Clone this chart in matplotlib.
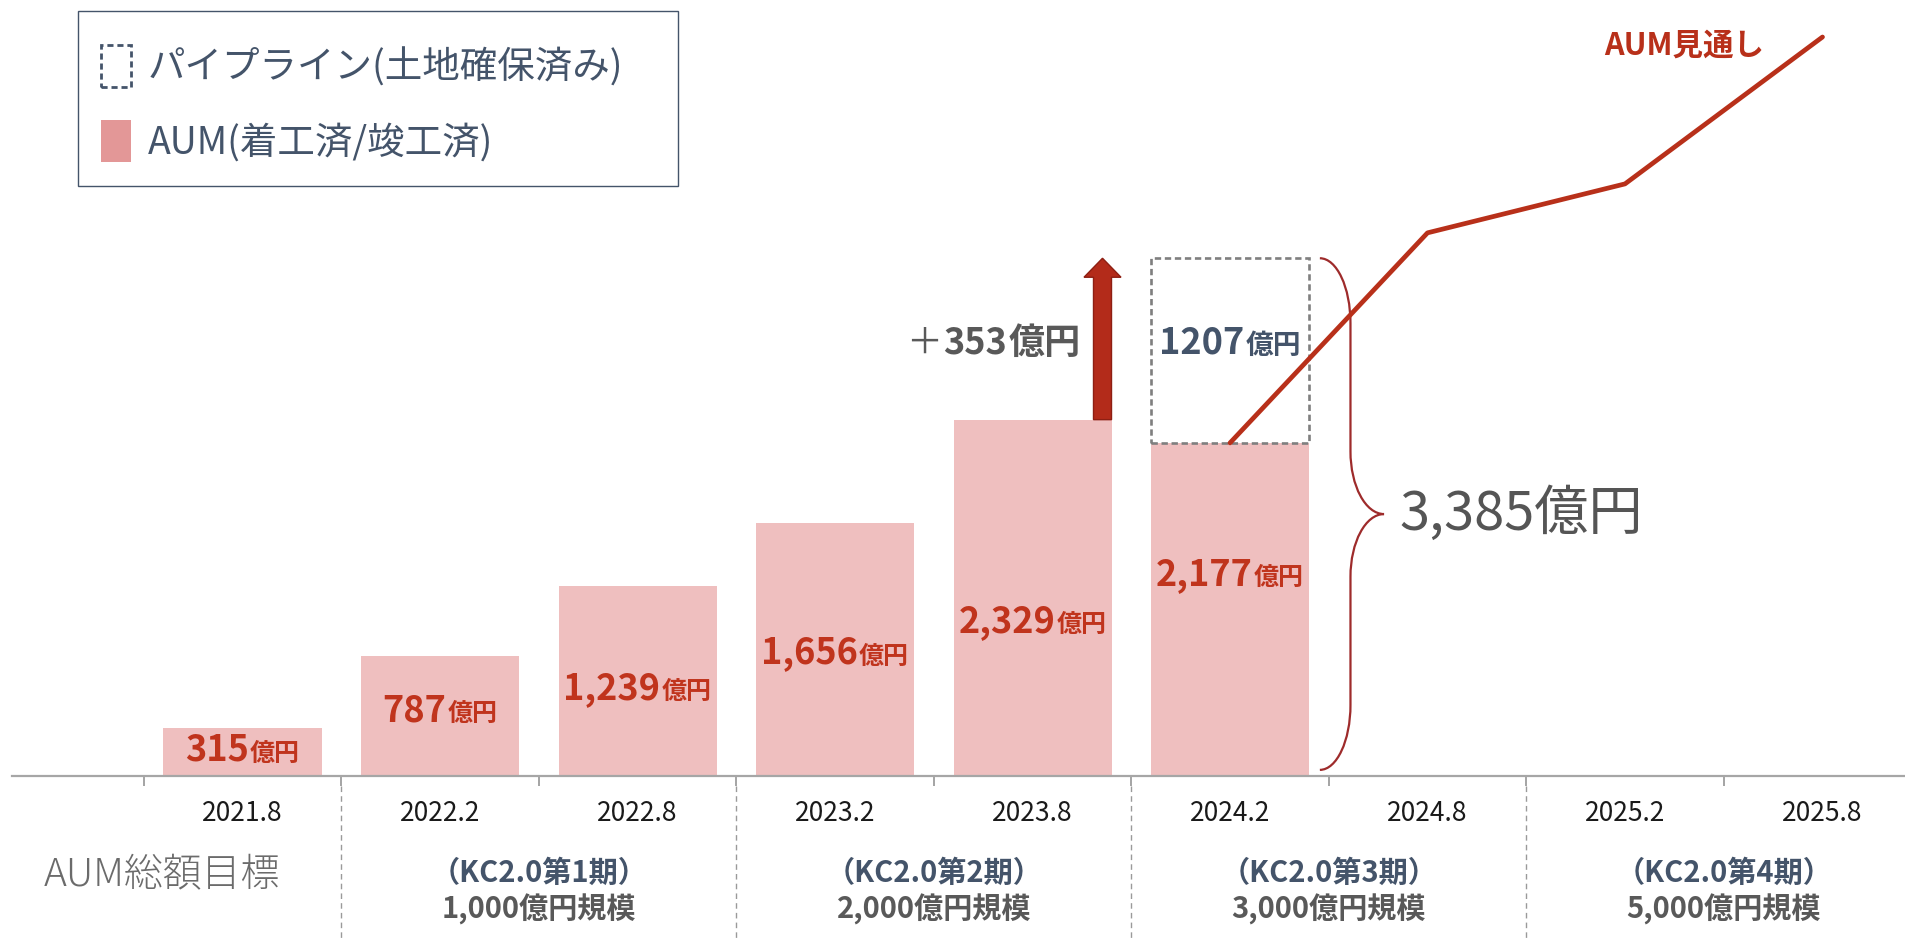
import matplotlib
matplotlib.use("Agg")
import matplotlib.pyplot as plt
from matplotlib.patches import Patch, FancyArrow, PathPatch, Rectangle
from matplotlib.path import Path
from matplotlib.offsetbox import TextArea, HPacker, AnnotationBbox
import numpy as np

plt.rcParams['font.family'] = ['Noto Sans CJK JP', 'DejaVu Sans']

# data
periods = ["2021.8", "2022.2", "2022.8", "2023.2", "2023.8",
           "2024.2", "2024.8", "2025.2", "2025.8"]
aum = [315, 787, 1239, 1656, 2329, 2177]
pipeline = 1207
increase = 353
total_aum = 3385
outlook_idx = [5, 6, 7, 8]
outlook = [2177, 3550, 3870, 4830]
phase_names = ["（KC2.0第1期）", "（KC2.0第2期）", "（KC2.0第3期）", "（KC2.0第4期）"]
phase_targets = ["1,000億円規模", "2,000億円規模", "3,000億円規模", "5,000億円規模"]
phase_centers = [1.5, 3.5, 5.5, 7.5]
phase_bounds = [0.5, 2.5, 4.5, 6.5]
label_y = [170, 425, 569, 804, 1007, 1314]  # where the value labels sit in the bars

# colours
BAR = '#EFBFBF'
LEGEND_PINK = '#E39797'
RED_TXT = '#C0341D'
LINE = '#B8301A'
BRACE = '#9E2B2B'
SLATE = '#44546A'
GRAY_TXT = '#595959'

# layout (pixels of the 1906x939 picture)
W, H = 1906, 939
base_px = 776
px_per_unit = 0.153
cat_px = 197.5
x0_px = 242.5


def y_below(px):
    return (base_px - px) / px_per_unit


fig = plt.figure(figsize=(W / 100, H / 100), dpi=100)
ax = fig.add_axes([0, (H - base_px) / H, 1, base_px / H])
ax.set_xlim(-x0_px / cat_px, (W - x0_px) / cat_px)
ax.set_ylim(0, base_px / px_per_unit)
ax.patch.set_visible(False)

# bars
ax.bar(range(len(aum)), aum, width=0.8, color=BAR, zorder=1)
ax.bar(5, pipeline, bottom=aum[5], width=0.8, fill=False, edgecolor='#7F7F7F',
       linestyle=(0, (2.4, 1.4)), linewidth=1.9, zorder=2)


def value_label(x, y, num, unit, color, num_size, unit_size, weight='bold',
                first=None, align=(0.5, 0.5)):
    parts = []
    if first is not None:
        parts.append(TextArea(first, textprops=dict(color=color, fontsize=num_size)))
    parts.append(TextArea(num, textprops=dict(color=color, fontsize=num_size, fontweight=weight)))
    parts.append(TextArea(unit, textprops=dict(color=color, fontsize=unit_size, fontweight=weight)))
    box = HPacker(children=parts, align='baseline', pad=0, sep=1)
    ab = AnnotationBbox(box, (x, y), frameon=False, box_alignment=align, pad=0, zorder=5)
    ax.add_artist(ab)


for i, v in enumerate(aum):
    value_label(i, label_y[i], f"{v:,}", "億円", RED_TXT, 26, 18)

total = aum[5] + pipeline
value_label(5, 2830, str(pipeline), "億円", SLATE, 26, 20)

# arrow for the increase
arrow_w = 18 / cat_px
arrow_x = 4 + 0.4 - arrow_w / 2
ax.add_patch(FancyArrow(arrow_x, aum[4], 0, total - aum[4], width=arrow_w,
                        head_width=37 / cat_px, head_length=19 / px_per_unit,
                        length_includes_head=True, facecolor='#B32B1A',
                        edgecolor='#8E1F13', linewidth=1, zorder=4))
value_label(arrow_x - 0.11, 2830, f"{increase}", "億円", GRAY_TXT, 26, 26,
            first="＋", align=(1, 0.5))

# brace for the total
k = 0.552
x_end, x_spine, x_tip = 5.455, 5.61, 5.78
top, bottom = total, 40
mid = (top + bottom) / 2
r, r2 = 425, 410
dx, dx2 = x_spine - x_end, x_tip - x_spine
verts = [
    (x_end, top),
    (x_end + k * dx, top), (x_spine, top - (1 - k) * r), (x_spine, top - r),
    (x_spine, mid + r2),
    (x_spine, mid + r2 - k * r2), (x_tip - k * dx2, mid), (x_tip, mid),
    (x_tip - k * dx2, mid), (x_spine, mid - r2 + k * r2), (x_spine, mid - r2),
    (x_spine, bottom + r),
    (x_spine, bottom + r - k * r), (x_end + k * dx, bottom), (x_end, bottom),
]
codes = ([Path.MOVETO] + [Path.CURVE4] * 3 + [Path.LINETO] + [Path.CURVE4] * 6
         + [Path.LINETO] + [Path.CURVE4] * 3)
ax.add_patch(PathPatch(Path(verts, codes), fill=False, edgecolor=BRACE,
                       linewidth=1.6, zorder=3))
ax.text(x_tip + 0.08, mid, f"{total_aum:,}億円", fontsize=39, color='#555555',
        ha='left', va='center')

# outlook line
ax.plot(outlook_idx, outlook, color=LINE, lw=3.4, solid_capstyle='round', zorder=6)
ax.text(7.30, 4771, "AUM見通し", fontsize=22, fontweight='bold', color=LINE,
        ha='center', va='center')

# axis
for s in ['top', 'left', 'right']:
    ax.spines[s].set_visible(False)
ax.spines['bottom'].set_color('#A6A6A6')
ax.spines['bottom'].set_linewidth(1.6)
ax.spines['bottom'].set_bounds(-1.167, 8.5)
ax.spines['bottom'].set_zorder(7)
ax.set_yticks([])
ax.set_xticks(range(len(periods)))
ax.set_xticklabels(periods, fontsize=19, color='#1A1A1A')
ax.tick_params(axis='x', which='major', length=0, pad=17)
ax.set_xticks(np.arange(-0.5, 8.5, 1), minor=True)
ax.tick_params(axis='x', which='minor', length=7.5, width=1.1, color='#8C8C8C')

ax.vlines(phase_bounds, y_below(786), y_below(H), colors='#9A9A9A',
          linestyles=(0, (4, 3)), linewidth=1, clip_on=False)

ax.text(-0.41, y_below(876), "AUM総額目標", fontsize=28, color='#6B6B6B',
        fontweight='light', ha='center', va='center')
for xc, name, target in zip(phase_centers, phase_names, phase_targets):
    ax.text(xc, y_below(873), name, fontsize=21, fontweight='bold', color=SLATE,
            ha='center', va='center')
    ax.text(xc, y_below(909), target, fontsize=21, fontweight='bold', color=GRAY_TXT,
            ha='center', va='center')

# legend
handles = [Patch(facecolor='none', edgecolor=SLATE, linestyle=(0, (2.2, 1.4)), linewidth=2.0),
           Patch(facecolor=LEGEND_PINK, edgecolor='none')]
labels = ["パイプライン(土地確保済み)", "AUM(着工済/竣工済)"]
leg = fig.legend(handles, labels, loc='upper left',
                 bbox_to_anchor=(101 / W, 1 - 45 / H),
                 fontsize=27, labelcolor=SLATE, handlelength=0.8, handleheight=1.35,
                 handletextpad=0.45, borderpad=0, labelspacing=0.86,
                 frameon=False, borderaxespad=0)
fig.patches.append(Rectangle((78 / W, 1 - 186 / H), 600 / W, 175 / H,
                             transform=fig.transFigure, fill=False,
                             edgecolor=SLATE, linewidth=1.0))

fig.savefig("out.png", dpi=100)
